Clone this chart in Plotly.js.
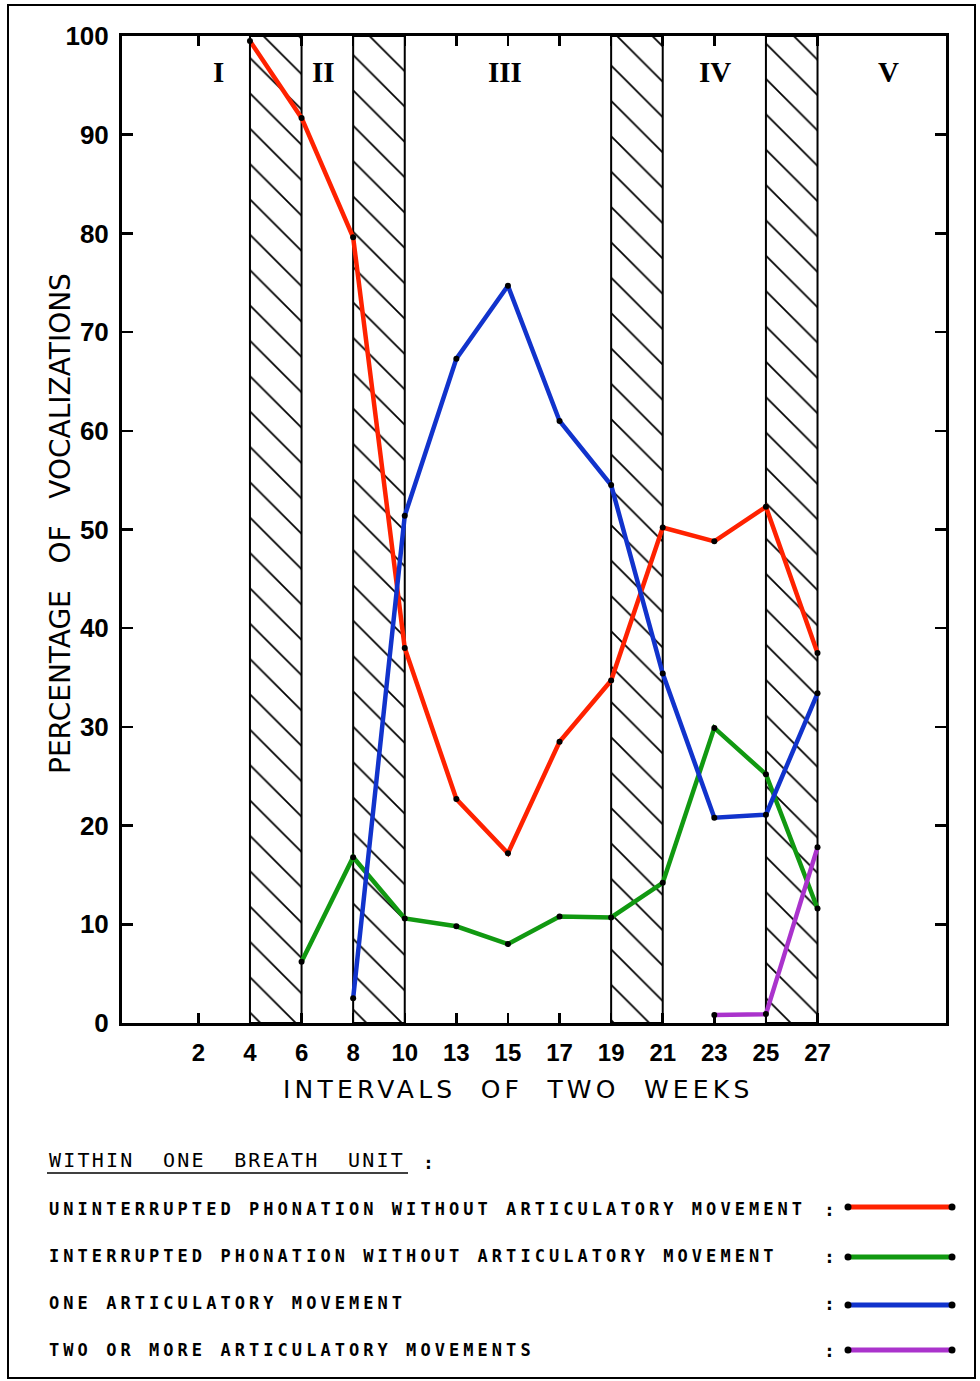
<!DOCTYPE html>
<html>
<head>
<meta charset="utf-8">
<script src="https://cdn.plot.ly/plotly-3.0.1.min.js"></script>
<style>
  html, body { margin: 0; padding: 0; background: #fff; }
  #chart { width: 980px; height: 1381px; }
</style>
</head>
<body>
<div id="chart"></div>
<script>
// ---------- data ----------
const categories = ['2', '4', '6', '8', '10', '13', '15', '17', '19', '21', '23', '25', '27'];

const uninterruptedX = ['4', '6', '8', '10', '13', '15', '17', '19', '21', '23', '25', '27'];
const uninterruptedY = [99.5, 91.7, 79.6, 38.0, 22.7, 17.2, 28.5, 34.7, 50.2, 48.8, 52.3, 37.5];

const interruptedX = ['6', '8', '10', '13', '15', '17', '19', '21', '23', '25', '27'];
const interruptedY = [6.2, 16.8, 10.6, 9.8, 8.0, 10.8, 10.7, 14.2, 29.9, 25.2, 11.6];

const oneMoveX = ['8', '10', '13', '15', '17', '19', '21', '23', '25', '27'];
const oneMoveY = [2.5, 51.4, 67.3, 74.7, 61.0, 54.5, 35.4, 20.8, 21.1, 33.4];

const twoMoreX = ['23', '25', '27'];
const twoMoreY = [0.8, 0.9, 17.8];

const hatchStart = ['4', '8', '19', '25'];   // shaded transition bands: from this interval to the next
const hatchTop = [100, 100, 100, 100];

const phaseLabels = ['I', 'II', 'III', 'IV', 'V'];

const seriesNames = [
  'UNINTERRUPTED PHONATION WITHOUT ARTICULATORY MOVEMENT',
  'INTERRUPTED PHONATION WITHOUT ARTICULATORY MOVEMENT',
  'ONE ARTICULATORY MOVEMENT',
  'TWO OR MORE ARTICULATORY MOVEMENTS'
];
const legendHeading = 'WITHIN\u00a0\u00a0ONE\u00a0\u00a0BREATH\u00a0\u00a0UNIT';
const xTitle = 'INTERVALS\u00a0\u00a0OF\u00a0\u00a0TWO\u00a0\u00a0WEEKS';
const yTitle = 'PERCENTAGE\u00a0\u00a0\u00a0OF\u00a0\u00a0\u00a0VOCALIZATIONS';

// ---------- styles ----------
const colors = ['#ff2200', '#119911', '#1133cc', '#aa33cc'];
const tickFont = '"Liberation Sans", Arial, sans-serif';
const monoFont = '"DejaVu Sans Mono", "Liberation Mono", monospace';

// plot area in pixels: x 122..946, y 36..1023
const L = 122, R = 946, T = 36, B = 1023;
const px = X => (X - L) / (R - L);
const py = Y => (B - Y) / (B - T);

function lineTrace(x, y, color, name) {
  return {
    type: 'scatter', mode: 'lines+markers', x: x, y: y, name: name,
    line: { color: color, width: 4.5 },
    marker: { color: '#000', size: 6 },
    showlegend: false, cliponaxis: false
  };
}

const data = [
  {
    type: 'bar', x: hatchStart, y: hatchTop, offset: 0, width: 1,
    marker: {
      color: '#ffffff',
      line: { color: '#000', width: 2 },
      pattern: { shape: '\\', size: 25, solidity: 0.07, fgcolor: '#000', bgcolor: '#ffffff', fillmode: 'replace' }
    },
    showlegend: false
  },
  lineTrace(uninterruptedX, uninterruptedY, colors[0], seriesNames[0]),
  lineTrace(interruptedX, interruptedY, colors[1], seriesNames[1]),
  lineTrace(oneMoveX, oneMoveY, colors[2], seriesNames[2]),
  lineTrace(twoMoreX, twoMoreY, colors[3], seriesNames[3])
];

// ---------- annotations ----------
const annotations = [];
const spacing = [];
function addAnn(a, sp) { annotations.push(a); spacing.push(sp || 0); }

// phase numerals
const phaseX = [218, 323, 505, 715, 888];
phaseLabels.forEach((t, i) => addAnn({
  xref: 'paper', yref: 'paper', x: px(phaseX[i]), y: py(72), text: t, showarrow: false,
  xanchor: 'center', yanchor: 'middle',
  font: { family: '"Liberation Serif", "DejaVu Serif", serif', size: 29, weight: 700, color: '#000' }
}));

// axis titles
addAnn({
  xref: 'paper', yref: 'paper', x: px(281), y: py(1089), text: xTitle, showarrow: false,
  xanchor: 'left', yanchor: 'middle', align: 'left',
  font: { family: '"DejaVu Sans", sans-serif', size: 25, color: '#000' }
}, 4.2);
addAnn({
  xref: 'paper', yref: 'paper', x: px(60), y: py(524), text: yTitle, showarrow: false,
  textangle: -90, xanchor: 'center', yanchor: 'middle',
  font: { family: '"DejaVu Sans", sans-serif', size: 28, color: '#000' }
});

// legend heading
addAnn({
  xref: 'paper', yref: 'paper', x: px(47), y: py(1160), text: legendHeading, showarrow: false,
  xanchor: 'left', yanchor: 'middle', align: 'left',
  font: { family: monoFont, size: 20, color: '#000' }
}, 2.2);
addAnn({
  xref: 'paper', yref: 'paper', x: px(428), y: py(1162), text: ':', showarrow: false,
  xanchor: 'center', yanchor: 'middle',
  font: { family: monoFont, size: 18, weight: 700, color: '#000' }
});

// legend rows
const rowY = [1209, 1256, 1303, 1350];
const sampleY = [1207, 1257, 1305, 1350];
seriesNames.forEach((t, i) => {
  addAnn({
    xref: 'paper', yref: 'paper', x: px(47), y: py(rowY[i]), text: t, showarrow: false,
    xanchor: 'left', yanchor: 'middle', align: 'left',
    font: { family: monoFont, size: 17, weight: 700, color: '#000' }
  }, 4.05);
  addAnn({
    xref: 'paper', yref: 'paper', x: px(829), y: py(rowY[i]), text: ':', showarrow: false,
    xanchor: 'center', yanchor: 'middle',
    font: { family: monoFont, size: 18, weight: 700, color: '#000' }
  });
});

// ---------- shapes (frame, underline, legend samples) ----------
const shapes = [
  { type: 'rect', xref: 'paper', yref: 'paper', x0: px(8), x1: px(975), y0: py(1378), y1: py(5),
    line: { color: '#000', width: 2 }, fillcolor: 'rgba(0,0,0,0)', layer: 'above' },
  { type: 'line', xref: 'paper', yref: 'paper', x0: px(47), x1: px(408), y0: py(1173), y1: py(1173),
    line: { color: '#000', width: 1.5 } }
];
colors.forEach((c, i) => {
  shapes.push({ type: 'line', xref: 'paper', yref: 'paper', x0: px(850), x1: px(950),
    y0: py(sampleY[i]), y1: py(sampleY[i]), line: { color: c, width: 5 } });
  [848, 952].forEach(X => shapes.push({
    type: 'circle', xref: 'paper', yref: 'paper',
    x0: px(X - 3.5), x1: px(X + 3.5), y0: py(sampleY[i] + 3.5), y1: py(sampleY[i] - 3.5),
    fillcolor: '#000', line: { color: '#000', width: 0 }
  }));
});

const layout = {
  width: 980, height: 1381,
  margin: { l: L, r: 980 - R, t: T, b: 1381 - B, pad: 0 },
  paper_bgcolor: '#fff', plot_bgcolor: '#fff',
  showlegend: false,
  bargap: 0,
  xaxis: {
    type: 'category', categoryorder: 'array', categoryarray: categories,
    range: [-1.48, 14.49], autorange: false,
    showline: true, linecolor: '#000', linewidth: 3, mirror: 'ticks',
    ticks: 'inside', ticklen: 10, tickwidth: 2.5, tickcolor: '#000',
    showgrid: false, zeroline: false,
    tickfont: { family: tickFont, size: 24, weight: 700, color: '#000' },
    ticklabelstandoff: 6
  },
  yaxis: {
    range: [0, 100], autorange: false, tickmode: 'linear', tick0: 0, dtick: 10,
    showline: true, linecolor: '#000', linewidth: 3, mirror: 'ticks',
    ticks: 'inside', ticklen: 11, tickwidth: 2.5, tickcolor: '#000',
    showgrid: false, zeroline: false,
    tickfont: { family: tickFont, size: 26, weight: 700, color: '#000' },
    ticklabelstandoff: 5
  },
  annotations: annotations,
  shapes: shapes
};

const gd = document.getElementById('chart');
Plotly.newPlot(gd, data, layout, { staticPlot: true, displayModeBar: false }).then(() => {
  gd.querySelectorAll('g.annotation').forEach(g => {
    const i = +g.getAttribute('data-index');
    if (spacing[i]) {
      const t = g.querySelector('text.annotation-text');
      if (t) t.style.letterSpacing = spacing[i] + 'px';
    }
  });
});
</script>
</body>
</html>
